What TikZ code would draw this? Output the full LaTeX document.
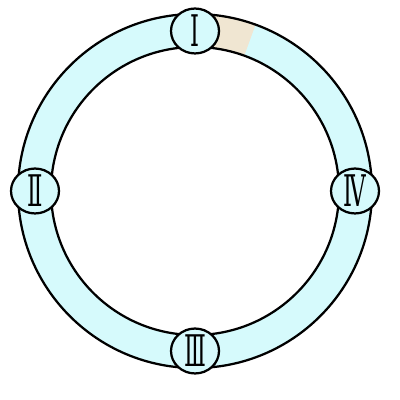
\documentclass[tikz,border=0pt]{standalone}
\usepackage{fontspec}
\usepackage{tikz}
\usepackage{xcolor}
\newfontfamily\numfont{DejaVu Serif}
\usetikzlibrary{positioning, shapes.geometric, calc}

\definecolor{ringcyan}{RGB}{214,250,252}
\definecolor{ringbeige}{RGB}{240,230,210}

% condensed roman numeral
\newcommand{\romnum}[1]{\scalebox{0.52}[1]{\numfont\fontsize{31}{31}\selectfont #1}}

\begin{document}
\begin{tikzpicture}[
	% --- Styles ---
	ringline/.style={
		draw, line width=1.6pt, color=black
	},
	stationnode/.style={
		ellipse, draw, line width=1.6pt, fill=ringcyan,
		minimum width=1.2cm, minimum height=1.12cm, inner sep=0pt
	}
	]
	
	% --- 0. Frame (400 x 400) ---
	\useasboundingbox (0,0) rectangle (10,10);
	
	% --- 1. Ring centre ---
	\coordinate (center) at (4.875,5.225);
	
	% --- 2. Ring body ---
	\fill [ringcyan, even odd rule] (center) circle (4.425) (center) circle (3.6);
	
	% Beige segment next to I
	\fill [ringbeige] ($(center)+(70:4.425)$) arc (70:90:4.425)
		-- ($(center)+(90:3.6)$) arc (90:70:3.6) -- cycle;
	
	% Outlines
	\draw [ringline] (center) circle (4.425);
	\draw [ringline] (center) circle (3.6);
	
	% --- 3. Stations ---
	\node [stationnode] (st1) at ($(center)+(90:4.0)$) {\romnum{Ⅰ}};
	\node [stationnode] (st2) at ($(center)+(180:4.0)$) {\romnum{Ⅱ}};
	\node [stationnode] (st3) at ($(center)+(270:4.0)$) {\romnum{Ⅲ}};
	\node [stationnode] (st4) at ($(center)+(0:4.0)$) {\romnum{Ⅳ}};
	
\end{tikzpicture}
\end{document}
